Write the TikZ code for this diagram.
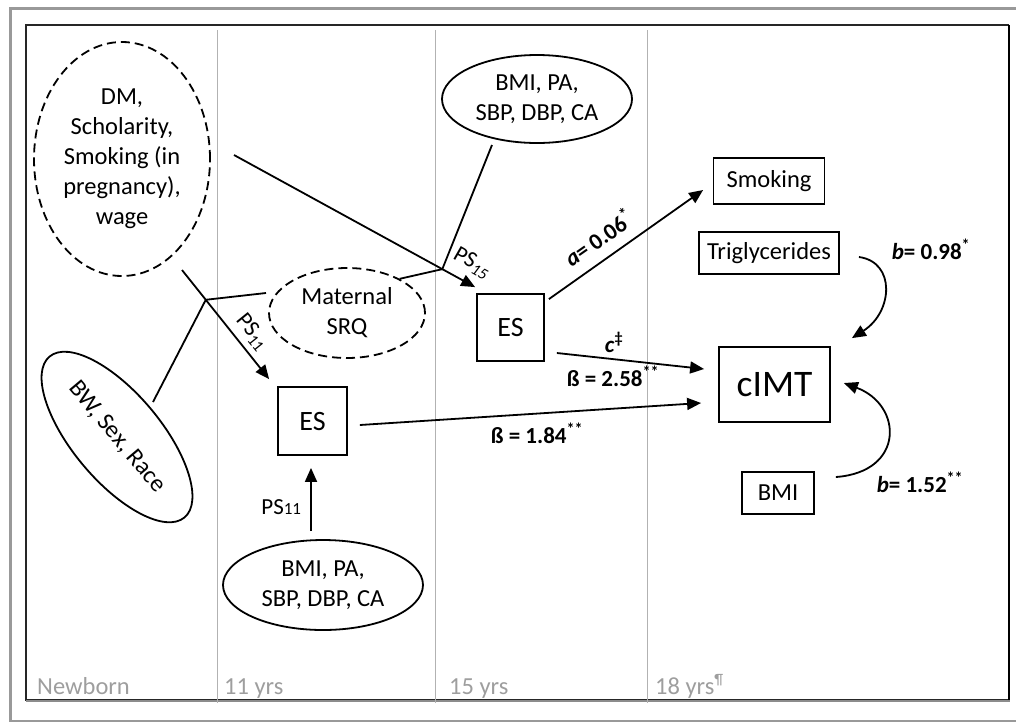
\documentclass[tikz,border=0pt]{standalone}
\usepackage{fontspec}
\setmainfont{Carlito}
\usetikzlibrary{arrows.meta,shapes.geometric,calc}
\tikzset{
 txt/.style={font=\fontsize{24.5}{30}\selectfont, align=center, inner sep=0pt},
 ell/.style={ellipse, draw, line width=1.8pt, txt},
 dell/.style={ell, dash pattern=on 9pt off 5pt},
 box/.style={rectangle, draw, line width=1.8pt, txt},
 con/.style={line width=1.8pt},
 arr/.style={con, -{Triangle[length=14pt,width=12pt]}},
 lab/.style={font=\fontsize{23}{27}\selectfont\bfseries, inner sep=0pt},
 pslab/.style={font=\fontsize{23}{27}\selectfont, inner sep=0pt},
 yr/.style={font=\fontsize{24.5}{30}\selectfont, text=black!38, anchor=base west, inner sep=0pt},
 vline/.style={black!30, line width=1pt},
}
\begin{document}
\begin{tikzpicture}[x=1pt,y=-1pt]
\useasboundingbox (0,0) rectangle (1016,721);
\begin{scope}
\clip (0,0) rectangle (1016,721);
\draw[black!40, line width=3.5pt] (10.5,8.5) rectangle (1040,721.8);
\end{scope}
% inner frame
\draw[black!85, line width=1.2pt] (26,25) rectangle (1008.5,700);
\draw[black, line width=2pt] (1008.5,25) -- (1008.5,701);
\draw[black!45, line width=2pt] (26,700.5) -- (1009.5,700.5);
% time columns
\draw[vline] (217,30) -- (217,703);
\draw[vline] (435,30) -- (435,703);
\draw[vline] (647,30) -- (647,703);
\node[yr] (t0) at (37,694) {Newborn};
\node[yr] (t1) at (224,694) {11 yrs};
\node[yr] (t2) at (449,694) {15 yrs};
\node[yr] (t3) at (655,694) {18 yrs\textsuperscript{\fontsize{15}{15}\selectfont ¶}};
% nodes
\node[dell, minimum width=176pt, minimum height=234pt] (dm) at (122,159) {DM,\\Scholarity,\\Smoking (in\\pregnancy),\\wage};
\node[dell, minimum width=156pt, minimum height=90pt] (srq) at (347,313) {Maternal\\SRQ};
\node[ell, minimum width=190pt, minimum height=88pt] (bmi15) at (537,99) {BMI, PA,\\SBP, DBP, CA};
\node[ell, minimum width=200pt, minimum height=90pt] (bmi11) at (323,585) {BMI, PA,\\SBP, DBP, CA};
\node[ell, minimum width=210pt, minimum height=88pt, rotate=-50] (bw) at (117,437) {BW, Sex, Race};
\node[box, minimum width=67pt, minimum height=67pt, font=\fontsize{28}{32}\selectfont] (es15) at (510.5,327.5) {ES};
\node[box, minimum width=69pt, minimum height=68pt, font=\fontsize{28}{32}\selectfont] (es11) at (312.5,421) {ES};
\node[box, minimum width=111pt, minimum height=46pt] (smoking) at (769,181) {Smoking};
\node[box, minimum width=140pt, minimum height=42pt] (trig) at (769,253) {Triglycerides};
\node[box, minimum width=111pt, minimum height=75pt, font=\fontsize{37.5}{40}\selectfont] (cimt) at (774.5,384.5) {cIMT};
\node[box, minimum width=72pt, minimum height=42pt] (bmi18) at (778,493) {BMI};
% free ends
\coordinate (dmR) at (234,155);
\coordinate (dmS) at (182,270);
\coordinate (bmiS) at (492,145);
\coordinate (bwN) at (153,402);
\coordinate (srqW) at (266,293);
% connectors
\draw[arr] (dmR) -- coordinate[pos=0.864] (jA) ([shift={(-1,-6)}]es15.north west);
\draw[con] (bmiS) -- (jA) -- (srq.33);
\draw[arr] (dmS) -- coordinate[pos=0.273] (jB) ([shift={(-8,-7)}]es11.north west);
\draw[con] (bwN) -- (jB) -- (srqW);
\draw[arr] ([shift={(-12,-8)}]bmi11.north) -- node[pslab, left=9pt, pos=0.38] (ps11b) {PS{\fontsize{17}{17}\selectfont 11}} ([shift={(-1.5,12)}]es11.south);
\draw[arr] ([shift={(12,4)}]es11.east) -- ([shift={(-17,18.5)}]cimt.west);
\draw[arr] ([shift={(12,25.5)}]es15.east) -- ([shift={(-14,-15.5)}]cimt.west);
\draw[arr] ([shift={(4,6)}]es15.north east) -- ([shift={(-9.5,9)}]smoking.west);
\draw[arr] ([shift={(19,4)}]trig.east) .. controls (896,262) and (893,312) .. ([shift={(21,-8)}]cimt.north east);
\draw[arr] ([shift={(21,-16)}]bmi18.east) .. controls (905,472) and (903,405) .. ([shift={(13,-1.5)}]cimt.east);
% labels
\node[pslab, rotate=-29.7] (ps15) at (472,263) {PS\textsubscript{\itshape 15}};
\node[pslab, rotate=-51] (ps11a) at (252,332) {PS\textsubscript{11}};
\node[lab, rotate=35] (la) at (598,237) {\textit{a}= 0.06\textsuperscript{*}};
\node[lab] (lc) at (614,342) {\textit{c}\textsuperscript{‡}};
\node[lab] (lb1) at (613,376) {ß = 2.58\textsuperscript{**}};
\node[lab] (lb2) at (537,433) {ß = 1.84\textsuperscript{**}};
\node[lab] (lb3) at (931,249) {\textit{b}= 0.98\textsuperscript{*}};
\node[lab] (lb4) at (920,482) {\textit{b}= 1.52\textsuperscript{**}};
\end{tikzpicture}
\end{document}
